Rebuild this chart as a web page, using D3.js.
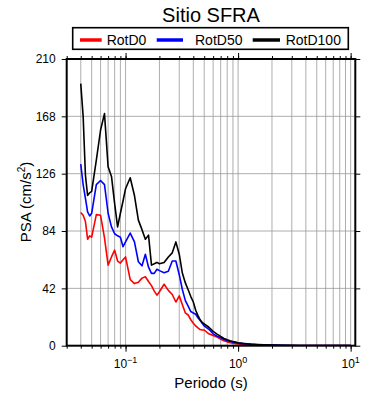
<!DOCTYPE html>
<html><head><meta charset="utf-8">
<script src="https://cdn.jsdelivr.net/npm/d3@7"></script>
<style>body{margin:0;background:#fff}svg{display:block;font-family:"Liberation Sans",Arial,sans-serif}</style>
</head><body><div id="chart"></div>
<script>
const periods = [0.04,0.042,0.044,0.046,0.048,0.05,0.055,0.06,0.065,0.07,0.075,0.08,0.085,0.09,0.095,0.1,0.11,0.12,0.13,0.14,0.15,0.16,0.17,0.18,0.19,0.2,0.22,0.24,0.26,0.28,0.3,0.32,0.34,0.36,0.38,0.4,0.42,0.44,0.46,0.48,0.5,0.55,0.6,0.65,0.7,0.75,0.8,0.85,0.9,0.95,1.0,1.1,1.2,1.3,1.5,1.7,2,2.5,3,3.5,4,5,6,7,8,9,10];
const rotD0 = [97.5,95.5,91,78,80.5,79.5,96,95.5,79,59,65,70,62,60.5,63,65,48.5,45.5,46.5,49.5,50.5,47,44,40,37,39.5,45,40.5,37.5,32,36.5,30,24,22.5,19,16.5,14.5,13,11.8,11.5,11.5,8.7,7.5,6.3,4.8,3.7,2.8,2.2,1.8,1.4,1.2,0.95,0.8,0.65,0.5,0.4,0.3,0.2,0.15,0.12,0.1,0.07,0.05,0.04,0.03,0.025,0.02];
const rotD50 = [133,118,108,98,95,97,118,121,118,97,87,82,80.5,79.5,72.5,76,82.5,76,61.5,58.5,67,57.5,53,53,56,55,53.5,54.5,62,62,52,41,33,29,25,24,23,20.5,18.5,16.5,14.5,12,8.7,7,5.8,4.5,3.7,3.1,2.6,2.2,1.9,1.5,1.2,1.0,0.75,0.58,0.4,0.27,0.2,0.15,0.12,0.08,0.06,0.05,0.04,0.03,0.025];
const rotD100 = [192,168,125,110,112,113,136,158,170,131,124,104,87,97,106,115,123,110,92,85,78,81,59,60,61,60,61,65,68,76,67,53,46,41,36,32,26,22,19,17,16,13.5,10.5,8.5,6.8,5.3,4.3,3.6,3.0,2.6,2.2,1.7,1.4,1.15,0.85,0.65,0.45,0.3,0.22,0.17,0.13,0.09,0.07,0.05,0.04,0.03,0.03];
const seriesNames = ["RotD0","RotD50","RotD100"];
const seriesColors = ["#ff0000","#0000ff","#000000"];
const yTicks = [0,42,84,126,168,210];
const xMajor = [0.1,1,10];
const xMajorExp = ["−1","0","1"];

const W=390,H=400;
const m={left:66.7,right:390-355.3,top:59,bottom:400-345.7};
const svg=d3.select("#chart").append("svg").attr("width",W).attr("height",H);
const x=d3.scaleLog().domain([0.03,11]).range([m.left,W-m.right]);
const y=d3.scaleLinear().domain([0,210]).range([H-m.bottom,m.top]);

// minor ticks
const minor=[];
[0.01,0.1,1,10].forEach(d=>{for(let k=1;k<10;k++){const v=d*k; if(v>=0.03&&v<=11) minor.push(v);}});

const g=svg.append("g");
// grid
g.selectAll(".vg").data(minor.filter(v=>v>0.031&&v<10.9)).join("line")
 .attr("x1",d=>x(d)).attr("x2",d=>x(d)).attr("y1",y(0)).attr("y2",y(210))
 .attr("stroke","#999").attr("stroke-width",0.8);
g.selectAll(".hg").data(yTicks.slice(1,-1)).join("line")
 .attr("x1",x.range()[0]).attr("x2",x.range()[1]).attr("y1",d=>y(d)).attr("y2",d=>y(d))
 .attr("stroke","#999").attr("stroke-width",0.8);

// curves
const data=[rotD0,rotD50,rotD100];
const line=d3.line().x((d,i)=>x(periods[i])).y(d=>y(d));
svg.append("defs").append("clipPath").attr("id","clip").append("rect")
 .attr("x",m.left).attr("y",m.top).attr("width",x.range()[1]-m.left).attr("height",y(0)-m.top);
data.forEach((s,i)=>{
 svg.append("path").datum(s).attr("d",line).attr("fill","none")
  .attr("stroke",seriesColors[i]).attr("stroke-width",1.6).attr("stroke-linejoin","round")
  .attr("clip-path","url(#clip)");
});

// axes with outward ticks
const fmt=()=>"";
const axB=d3.axisBottom(x).tickValues(minor).tickFormat(fmt).tickSizeOuter(0).tickSizeInner(3);
const axT=d3.axisTop(x).tickValues(minor).tickFormat(fmt).tickSizeOuter(0).tickSizeInner(3);
const axL=d3.axisLeft(y).tickValues(yTicks).tickFormat(d=>d).tickSizeOuter(0).tickSize(5).tickPadding(6);
const axR=d3.axisRight(y).tickValues(yTicks).tickFormat(fmt).tickSizeOuter(0).tickSize(5);
function style(sel){sel.select(".domain").remove();sel.selectAll("line").attr("stroke","#000").attr("stroke-width",1);}
svg.append("g").attr("transform",`translate(0,${y(0)})`).call(axB).call(style);
svg.append("g").attr("transform",`translate(0,${y(210)})`).call(axT).call(style);
svg.append("g").attr("transform",`translate(0,${y(0)})`).call(d3.axisBottom(x).tickValues(xMajor).tickFormat(fmt).tickSize(6)).call(style);
svg.append("g").attr("transform",`translate(0,${y(210)})`).call(d3.axisTop(x).tickValues(xMajor).tickFormat(fmt).tickSize(6)).call(style);
const gl=svg.append("g").attr("transform",`translate(${m.left},0)`).call(axL).call(style);
gl.selectAll("text").attr("font-size",12).attr("fill","#000").attr("font-family","Liberation Sans, Arial, sans-serif");
svg.append("g").attr("transform",`translate(${x.range()[1]},0)`).call(axR).call(style);

// x major labels
const xl=svg.append("g");
xMajor.forEach((v,i)=>{
 const t=xl.append("text").attr("x",x(v)).attr("y",367.5).attr("text-anchor","middle").attr("font-size",12);
 t.append("tspan").text("10");
 t.append("tspan").attr("dy",-5).attr("font-size",9).text(xMajorExp[i]);
});

// frame
svg.append("rect").attr("x",m.left).attr("y",m.top).attr("width",x.range()[1]-m.left).attr("height",y(0)-m.top)
 .attr("fill","none").attr("stroke","#000").attr("stroke-width",2);

// title & labels
svg.append("text").attr("x",211).attr("y",22).attr("text-anchor","middle").attr("font-size",20).text("Sitio SFRA");
svg.append("text").attr("x",211).attr("y",388).attr("text-anchor","middle").attr("font-size",15).text("Periodo (s)");
const yl=svg.append("text").attr("transform","translate(31,202) rotate(-90)").attr("text-anchor","middle").attr("font-size",15);
yl.append("tspan").text("PSA (cm/s");
yl.append("tspan").attr("dy",-6).attr("font-size",10).text("2");
yl.append("tspan").attr("dy",6).text(")");

// legend
const lg=svg.append("g");
lg.append("rect").attr("x",72.7).attr("y",27.7).attr("width",275.6).attr("height",21.6).attr("fill","#fff").attr("stroke","#000").attr("stroke-width",1.6);
const lx=[[80,101.7,106.7],[156.7,183,195],[252.7,280,285.7]];
seriesNames.forEach((n,i)=>{
 lg.append("line").attr("x1",lx[i][0]).attr("x2",lx[i][1]).attr("y1",40).attr("y2",40).attr("stroke",seriesColors[i]).attr("stroke-width",3.5);
 lg.append("text").attr("x",lx[i][2]).attr("y",45).attr("font-size",14).text(n);
});
</script></body></html>
